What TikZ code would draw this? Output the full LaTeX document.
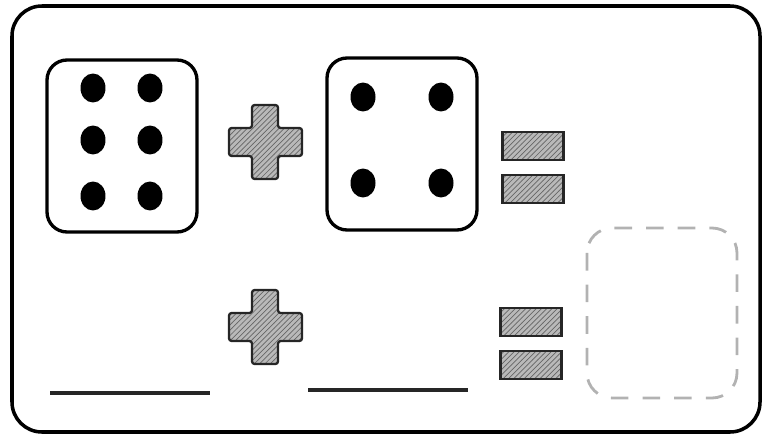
\documentclass[tikz,border=0pt]{standalone}
\usepackage{xcolor}
\usetikzlibrary{shapes.geometric,patterns,positioning}

\begin{document}
\begin{tikzpicture}[
    x=0.02cm, y=-0.02cm,
    card/.style={draw, line width=2pt, rounded corners=0.6cm},
    die/.style={rectangle, draw, line width=1.9pt, rounded corners=0.4cm, minimum width=3cm, minimum height=3.44cm, inner sep=0pt},
    pip/.style={ellipse, fill=black, minimum width=0.5cm, minimum height=0.58cm, inner sep=0pt},
    hatch/.style={draw=black!85, line width=1.3pt, preaction={fill=gray!55}, pattern=north east lines, pattern color=black!60},
    bar/.style={rectangle, hatch, minimum width=1.22cm, minimum height=0.56cm, inner sep=0pt},
    answer/.style={draw=gray!60, line width=1.6pt, dash pattern=on 10pt off 8pt, rounded corners=0.5cm},
    blank/.style={line width=2.4pt, draw=black!85}
]
    \useasboundingbox (0,0) rectangle (764,439);
    \draw[card] (12,6) rectangle (760,432);

    % first die: six
    \node[die] (dieA) at (122,146) {};
    \foreach \px in {93,150}
        \foreach \py in {88,140,196}
            \node[pip] at (\px,\py) {};

    % second die: four
    \node[die] (dieB) at (402,144) {};
    \foreach \px in {363,441}
        \foreach \py in {97,183}
            \node[pip] at (\px,\py) {};

    % plus signs
    \foreach \cy in {142,327}
        \fill[hatch, rounded corners=1.5pt] (252,\cy-37) -- (278,\cy-37) -- (278,\cy-14) -- (302,\cy-14) -- (302,\cy+14)
            -- (278,\cy+14) -- (278,\cy+37) -- (252,\cy+37) -- (252,\cy+14) -- (229,\cy+14)
            -- (229,\cy-14) -- (252,\cy-14) -- cycle;

    % equals signs
    \node[bar] (eqA1) at (533,146) {};
    \node[bar] (eqA2) at (533,189) {};
    \node[bar] (eqB1) at (531,322) {};
    \node[bar] (eqB2) at (531,365) {};

    % answer box
    \draw[answer] (587,228) rectangle (737,398);

    % blanks
    \coordinate (blankA1) at (50,393);
    \coordinate (blankA2) at (210,393);
    \coordinate (blankB1) at (308,390);
    \coordinate (blankB2) at (468,390);
    \draw[blank] (blankA1) -- (blankA2);
    \draw[blank] (blankB1) -- (blankB2);
\end{tikzpicture}
\end{document}
